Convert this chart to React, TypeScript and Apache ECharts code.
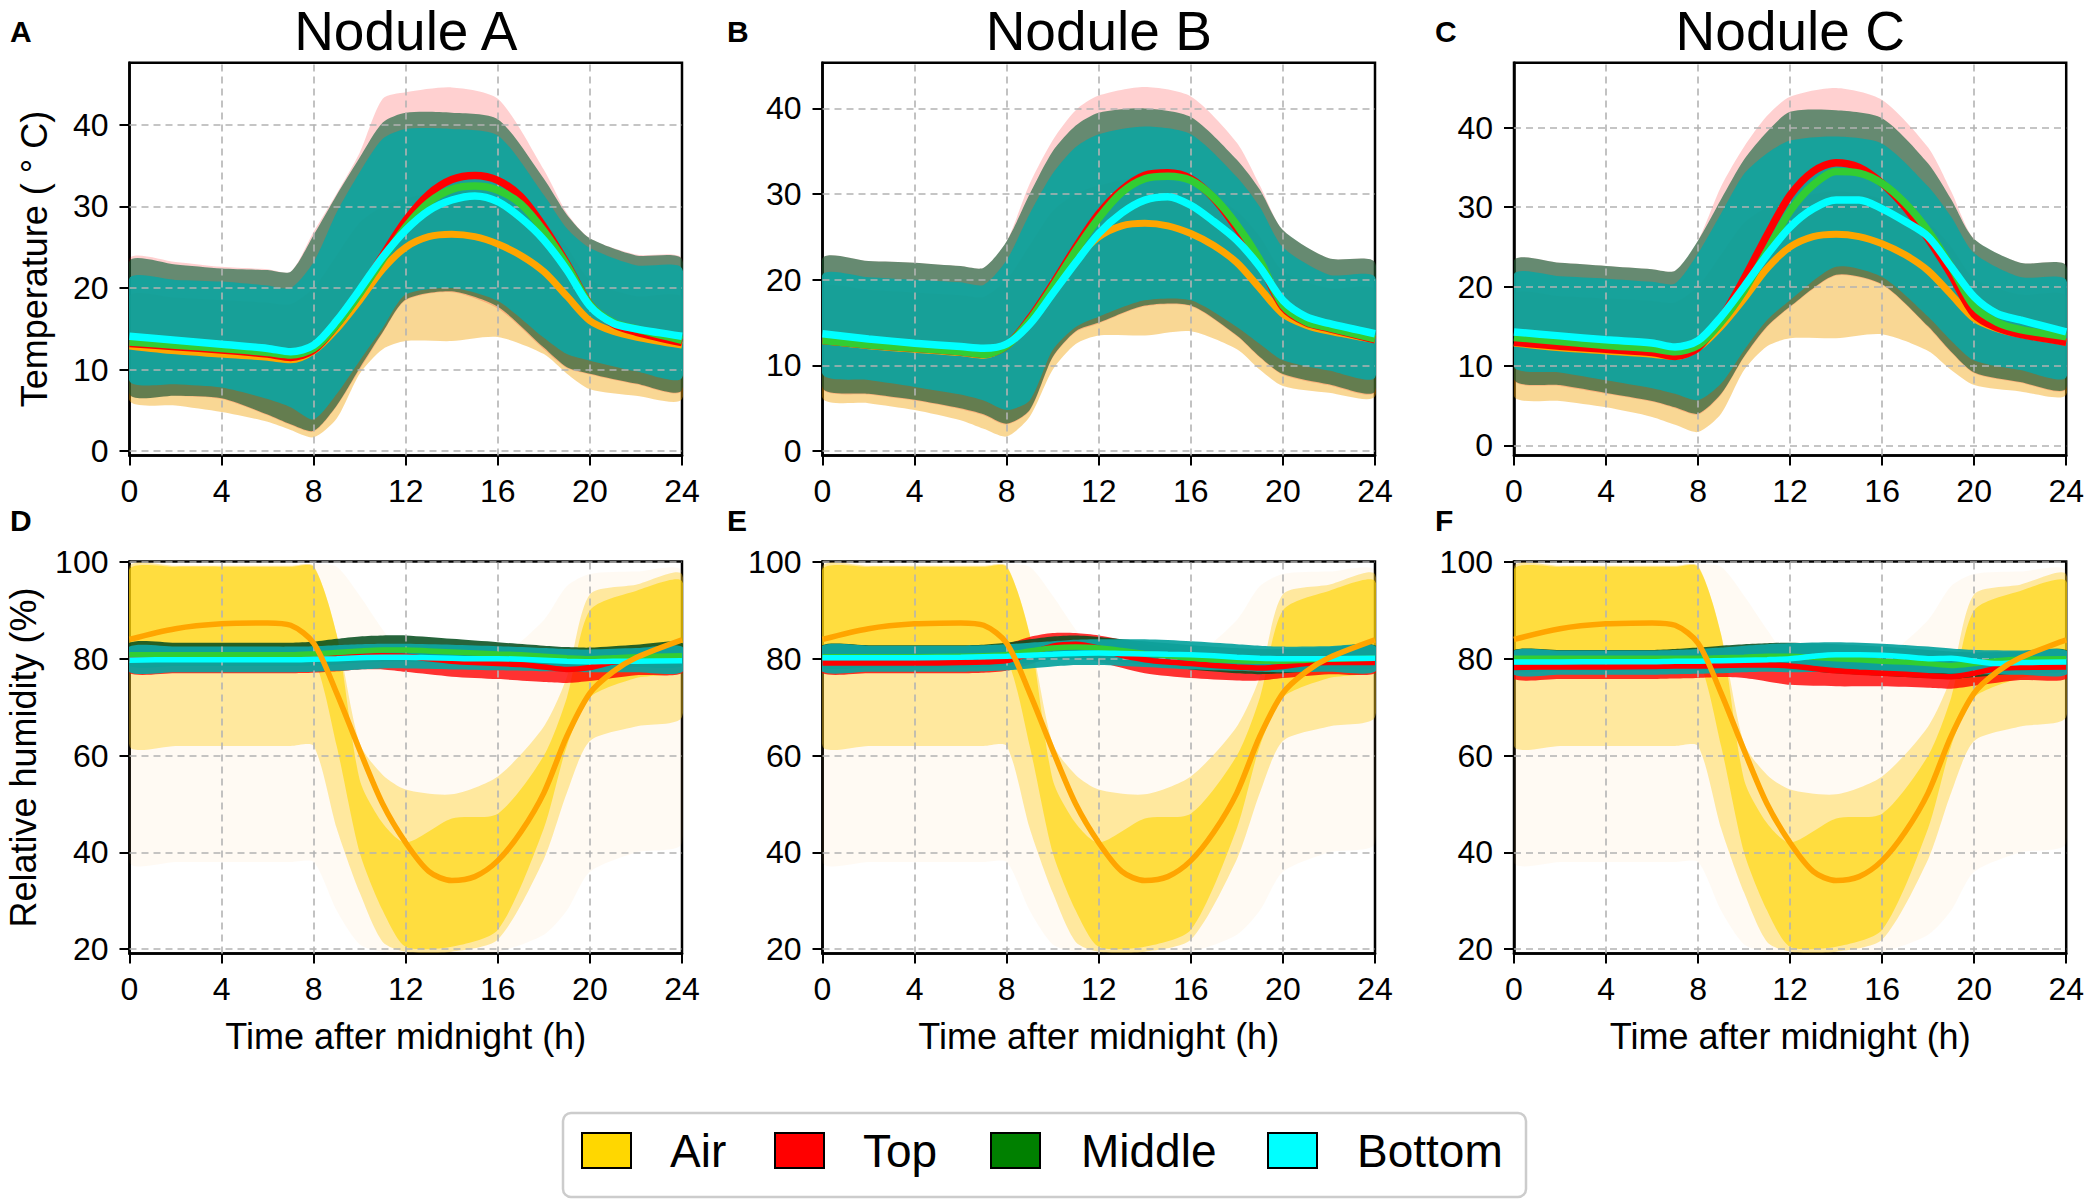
import React, { useEffect, useRef } from "react";
import * as echarts from "echarts";

// ---------------- DATA ----------------
const HOURS_MEAN = [0, 2, 4, 6, 7, 8, 9, 10, 11, 12, 13, 14, 15, 16, 17, 18, 19, 20, 21, 22, 24];
const HOURS_BAND = [0, 2, 4, 6, 7, 8, 9, 10, 11, 12, 14, 16, 18, 19, 20, 22, 24];
const X_TICKS = [0, 4, 8, 12, 16, 20, 24];
const TEMP_TICKS = [0, 10, 20, 30, 40];
const RH_TICKS = [20, 40, 60, 80, 100];
const NODULE_TITLES = ["Nodule A", "Nodule B", "Nodule C"];
const TOP_LETTERS = ["A", "B", "C"];
const BOTTOM_LETTERS = ["D", "E", "F"];
const SERIES_NAMES = ["Air", "Top", "Middle", "Bottom"];

// mean temperature (°C)
const AIR_TEMP_MEAN = [12.9, 12.3, 11.9, 11.5, 11.2, 12.3, 15.0, 18.5, 22.3, 25.0, 26.3, 26.6, 26.3, 25.4, 24.0, 22.0, 19.0, 16.0, 14.7, 14.0, 13.0];
const A_TOP_TEMP = [13.2, 12.8, 12.4, 11.9, 11.5, 12.4, 15.5, 19.5, 24.0, 28.3, 31.5, 33.3, 33.8, 33.2, 31.2, 27.5, 23.0, 18.0, 15.6, 14.6, 13.3];
const A_MID_TEMP = [13.4, 13.0, 12.6, 12.1, 11.8, 12.6, 15.5, 19.3, 23.5, 27.5, 30.5, 32.1, 32.5, 32.0, 30.3, 27.0, 22.8, 18.0, 15.8, 15.0, 13.6];
const A_BOT_TEMP = [14.1, 13.6, 13.1, 12.6, 12.2, 13.0, 16.0, 19.8, 23.8, 27.1, 29.5, 30.8, 31.3, 30.6, 28.6, 25.9, 22.2, 17.8, 15.7, 15.0, 14.1];
const B_TOP_TEMP = [12.9, 12.4, 12.0, 11.6, 11.3, 12.3, 15.5, 19.5, 23.8, 27.7, 30.5, 32.2, 32.5, 31.8, 29.5, 26.0, 22.0, 16.8, 15.0, 14.3, 13.0];
const B_MID_TEMP = [12.9, 12.4, 12.0, 11.6, 11.3, 12.3, 15.3, 19.2, 23.4, 27.2, 30.2, 31.8, 32.1, 31.6, 29.6, 26.4, 22.3, 17.0, 15.1, 14.4, 13.1];
const B_BOT_TEMP = [13.7, 13.1, 12.6, 12.2, 12.0, 12.5, 14.8, 18.4, 22.0, 25.4, 27.8, 29.3, 29.7, 28.7, 26.8, 24.6, 21.5, 17.6, 15.7, 14.9, 13.7];
const C_TOP_TEMP = [13.0, 12.5, 12.1, 11.7, 11.2, 12.3, 16.0, 21.0, 26.5, 31.5, 34.5, 35.6, 35.0, 33.0, 30.0, 26.0, 21.5, 16.5, 14.8, 14.0, 13.0];
const C_MID_TEMP = [13.6, 13.1, 12.6, 12.2, 11.8, 12.6, 15.5, 19.5, 24.5, 29.5, 32.8, 34.5, 34.3, 33.0, 30.5, 27.0, 22.5, 17.5, 15.5, 14.6, 13.7];
const C_BOT_TEMP = [14.3, 13.8, 13.3, 12.9, 12.4, 13.2, 16.2, 20.0, 24.0, 27.5, 29.8, 30.9, 30.9, 29.8, 28.2, 26.3, 22.5, 18.7, 16.6, 15.8, 14.3];

// mean relative humidity (%)
const AIR_RH_MEAN = [84.0, 86.2, 87.2, 87.4, 86.9, 83.2, 72.9, 61.1, 50.0, 42.0, 36.1, 34.2, 35.0, 38.3, 44.2, 52.3, 64.0, 72.9, 77.3, 80.2, 83.9];
const D_TOP_RH = [80.0, 80.0, 80.0, 80.0, 80.0, 80.1, 80.3, 80.5, 80.6, 80.5, 80.0, 79.5, 79.2, 79.0, 78.8, 78.3, 77.8, 78.2, 79.3, 79.8, 80.0];
const D_MID_RH = [80.8, 80.8, 80.8, 80.8, 80.8, 81.0, 81.3, 81.6, 81.8, 81.8, 81.6, 81.4, 81.2, 81.0, 80.8, 80.5, 80.2, 80.0, 80.2, 80.4, 80.6];
const D_BOT_RH = [79.7, 79.8, 79.8, 79.8, 79.8, 79.9, 80.0, 80.2, 80.3, 80.3, 80.2, 80.1, 80.0, 80.0, 79.9, 79.7, 79.5, 79.4, 79.5, 79.5, 79.6];
const E_TOP_RH = [79.1, 79.1, 79.1, 79.2, 79.3, 79.6, 81.0, 82.6, 83.0, 82.2, 80.7, 79.8, 79.3, 79.0, 78.6, 78.3, 78.1, 78.4, 79.0, 79.2, 79.2];
const E_MID_RH = [80.4, 80.4, 80.4, 80.5, 80.6, 80.9, 81.6, 82.2, 82.4, 82.2, 81.7, 81.1, 80.6, 80.1, 79.8, 79.6, 79.5, 79.5, 79.7, 79.9, 80.1];
const E_BOT_RH = [80.2, 80.2, 80.2, 80.3, 80.4, 80.5, 80.7, 80.9, 81.1, 81.2, 81.1, 81.0, 80.9, 80.8, 80.6, 80.3, 80.1, 80.0, 80.0, 80.0, 80.1];
const F_TOP_RH = [78.2, 78.3, 78.3, 78.4, 78.5, 78.5, 78.6, 78.7, 78.7, 78.5, 78.0, 77.5, 77.2, 77.0, 76.8, 76.5, 76.3, 77.0, 78.0, 78.2, 78.3];
const F_MID_RH = [80.1, 80.1, 80.1, 80.1, 80.1, 80.1, 80.2, 80.3, 80.5, 80.5, 80.3, 80.0, 79.8, 79.5, 79.3, 79.0, 78.6, 79.0, 79.6, 79.9, 80.0];
const F_BOT_RH = [79.3, 79.3, 79.4, 79.4, 79.5, 79.5, 79.6, 79.7, 79.8, 80.0, 80.5, 80.8, 80.8, 80.7, 80.4, 80.0, 80.1, 79.5, 79.0, 79.2, 79.3];

// spread of the individual readings (lower / upper envelopes), temperature
const AIR_TEMP_LO = [6.2, 5.6, 4.8, 3.6, 2.6, 1.7, 4.0, 9.5, 12.5, 13.5, 13.5, 14.0, 11.9, 9.5, 7.6, 6.8, 6.4];
const AIR_TEMP_HI = [19.0, 18.8, 18.5, 18.2, 18.0, 20.0, 24.0, 28.0, 30.0, 31.0, 32.0, 31.0, 28.0, 25.0, 21.0, 19.0, 18.8];
const A_TOP_TEMP_LO = [7.0, 6.8, 6.4, 4.4, 3.2, 2.4, 5.5, 10.0, 14.5, 18.5, 19.5, 17.5, 12.5, 10.2, 9.4, 8.2, 7.4];
const A_TOP_TEMP_HI = [23.6, 23.2, 22.6, 22.3, 22.0, 26.9, 31.6, 36.6, 43.2, 44.0, 44.6, 43.2, 34.5, 29.2, 26.1, 24.1, 23.6];
const A_MID_TEMP_LO = [7.0, 6.8, 6.5, 4.5, 3.3, 2.5, 5.6, 10.2, 14.6, 18.6, 19.6, 17.7, 12.7, 10.3, 9.5, 8.3, 7.5];
const A_MID_TEMP_HI = [23.3, 22.9, 22.4, 22.2, 22.0, 26.5, 31.4, 36.0, 40.3, 41.5, 41.5, 40.7, 33.4, 29.0, 26.1, 24.0, 23.5];
const A_BOT_TEMP_LO = [8.6, 8.2, 7.8, 6.4, 5.4, 3.9, 7.0, 11.1, 15.1, 19.2, 20.0, 18.4, 13.9, 11.9, 11.1, 9.8, 9.0];
const A_BOT_TEMP_HI = [21.2, 21.0, 20.8, 20.3, 20.0, 23.2, 29.3, 34.2, 38.3, 39.5, 39.5, 38.7, 31.4, 27.3, 24.9, 22.8, 22.4];
const B_TOP_TEMP_LO = [7.3, 6.6, 5.9, 4.9, 4.2, 3.1, 4.7, 10.9, 13.9, 14.9, 16.9, 16.9, 13.4, 10.9, 8.9, 7.7, 6.9];
const B_TOP_TEMP_HI = [22.5, 22.2, 22.0, 21.6, 21.4, 24.5, 31.2, 36.3, 39.8, 41.5, 42.5, 41.4, 36.0, 31.0, 25.8, 22.5, 22.0];
const B_MID_TEMP_LO = [7.4, 6.7, 6.0, 5.0, 4.3, 3.2, 4.8, 11.0, 14.0, 15.0, 17.0, 17.0, 13.5, 11.0, 9.0, 7.8, 7.0];
const B_MID_TEMP_HI = [22.5, 22.2, 22.0, 21.6, 21.4, 24.5, 30.0, 35.0, 38.0, 39.5, 40.0, 39.0, 34.0, 30.5, 25.8, 22.5, 22.0];
const B_BOT_TEMP_LO = [9.0, 8.3, 7.5, 6.6, 5.9, 4.8, 5.9, 11.8, 14.5, 15.7, 17.6, 17.6, 14.5, 12.5, 10.6, 9.4, 8.6];
const B_BOT_TEMP_HI = [20.6, 20.3, 20.0, 19.7, 19.4, 22.3, 27.7, 32.4, 35.5, 37.0, 37.9, 37.0, 32.0, 28.5, 23.8, 20.6, 20.3];
const C_TOP_TEMP_LO = [8.2, 7.5, 6.5, 5.5, 4.7, 3.9, 6.4, 11.1, 14.9, 17.4, 21.4, 20.2, 14.9, 11.7, 9.1, 7.9, 7.1];
const C_TOP_TEMP_HI = [23.3, 23.0, 22.6, 22.2, 22.0, 25.8, 32.6, 37.6, 41.5, 43.9, 45.0, 43.5, 37.5, 32.0, 26.0, 23.0, 22.6];
const C_MID_TEMP_LO = [8.3, 7.6, 6.6, 5.6, 4.8, 4.0, 6.5, 11.2, 15.0, 17.5, 21.5, 20.3, 15.0, 11.8, 9.2, 8.0, 7.2];
const C_MID_TEMP_HI = [23.3, 23.0, 22.6, 22.2, 22.0, 25.8, 31.0, 36.0, 39.5, 42.0, 42.2, 41.2, 35.5, 31.0, 26.0, 23.0, 22.6];
const C_BOT_TEMP_LO = [9.9, 9.2, 8.2, 7.2, 6.5, 5.7, 7.8, 12.0, 15.8, 18.3, 22.5, 21.2, 16.2, 13.2, 10.7, 9.5, 8.6];
const C_BOT_TEMP_HI = [21.6, 21.3, 21.0, 20.6, 20.4, 24.2, 29.2, 34.2, 36.8, 38.4, 38.9, 38.0, 32.6, 28.8, 24.2, 21.2, 20.8];

// spread of the individual readings, relative humidity
const AIR_RH_FAINT_LO = [38.0, 38.0, 38.0, 38.0, 38.0, 38.0, 28.0, 21.0, 19.5, 19.2, 19.2, 19.5, 23.0, 28.0, 36.0, 40.0, 42.0];
const AIR_RH_FAINT_HI = [99.5, 99.5, 99.5, 99.5, 99.5, 99.5, 99.0, 93.0, 86.0, 80.0, 78.0, 80.0, 88.0, 95.0, 97.5, 98.0, 98.0];
const AIR_RH_MID_LO = [62.0, 62.0, 62.0, 62.0, 62.0, 62.0, 45.0, 31.7, 21.5, 19.5, 19.5, 22.0, 38.6, 52.3, 63.0, 66.0, 68.0];
const AIR_RH_MID_HI = [99.0, 99.2, 99.2, 99.2, 99.2, 99.2, 85.0, 62.5, 56.0, 53.0, 52.0, 55.7, 66.0, 76.2, 93.3, 95.3, 97.4];
const AIR_RH_LO = [80.0, 80.0, 80.0, 80.0, 80.0, 80.0, 62.0, 40.0, 28.0, 20.5, 20.5, 24.0, 45.0, 62.0, 72.0, 76.0, 78.0];
const AIR_RH_HI = [98.5, 99.0, 99.0, 99.0, 99.0, 99.0, 85.0, 55.0, 46.0, 42.0, 47.0, 48.0, 60.0, 72.0, 90.0, 94.0, 96.0];
const D_TOP_RH_LO = [77.0, 77.0, 77.0, 77.0, 77.0, 77.1, 77.4, 77.8, 77.8, 77.3, 76.3, 75.8, 75.2, 75.0, 75.4, 76.6, 77.0];
const D_TOP_RH_HI = [81.5, 81.5, 81.5, 81.5, 81.5, 81.6, 81.8, 82.0, 82.2, 82.2, 81.6, 81.0, 80.5, 80.3, 80.5, 81.0, 81.5];
const D_MID_RH_LO = [78.5, 78.5, 78.5, 78.5, 78.5, 78.6, 78.8, 79.2, 79.4, 79.4, 79.0, 78.6, 78.3, 78.0, 78.0, 78.3, 78.5];
const D_MID_RH_HI = [83.3, 83.3, 83.3, 83.3, 83.3, 83.5, 84.1, 84.6, 84.8, 84.8, 84.1, 83.4, 82.7, 82.4, 82.3, 82.9, 83.3];
const D_BOT_RH_LO = [77.2, 77.2, 77.2, 77.2, 77.2, 77.3, 77.5, 77.8, 78.0, 78.0, 77.8, 77.6, 77.4, 77.3, 77.2, 77.2, 77.2];
const D_BOT_RH_HI = [82.5, 82.5, 82.5, 82.5, 82.5, 82.6, 82.8, 83.0, 83.1, 83.1, 82.9, 82.6, 82.2, 82.0, 81.9, 82.2, 82.5];
const E_TOP_RH_LO = [77.0, 77.0, 77.0, 77.0, 77.1, 77.5, 78.8, 80.3, 80.3, 79.3, 77.0, 76.0, 75.5, 75.5, 76.0, 76.8, 77.0];
const E_TOP_RH_HI = [81.5, 81.5, 81.5, 81.5, 81.7, 83.0, 84.5, 85.3, 85.3, 84.8, 83.0, 81.5, 80.5, 80.3, 80.3, 81.0, 81.5];
const E_MID_RH_LO = [78.2, 78.2, 78.2, 78.2, 78.3, 78.6, 79.2, 79.8, 80.0, 79.8, 78.8, 77.8, 77.0, 76.8, 77.0, 77.8, 78.2];
const E_MID_RH_HI = [82.8, 82.8, 82.8, 82.8, 82.9, 83.3, 84.0, 84.6, 84.8, 84.5, 83.6, 82.8, 82.2, 82.0, 82.0, 82.4, 82.8];
const E_BOT_RH_LO = [77.3, 77.3, 77.3, 77.3, 77.4, 77.6, 78.0, 78.4, 78.7, 78.7, 78.3, 77.8, 77.5, 77.3, 77.2, 77.3, 77.3];
const E_BOT_RH_HI = [82.7, 82.7, 82.7, 82.7, 82.8, 83.0, 83.3, 83.6, 83.9, 84.0, 84.0, 83.6, 83.0, 82.7, 82.5, 82.6, 82.7];
const F_TOP_RH_LO = [75.8, 75.8, 75.8, 75.8, 75.9, 76.0, 76.2, 76.0, 75.3, 74.6, 74.3, 74.3, 74.0, 73.8, 74.4, 75.6, 75.8];
const F_TOP_RH_HI = [80.3, 80.3, 80.3, 80.3, 80.3, 80.4, 80.5, 80.6, 80.5, 80.2, 79.6, 79.0, 78.5, 78.3, 78.8, 80.0, 80.3];
const F_MID_RH_LO = [77.5, 77.5, 77.5, 77.5, 77.5, 77.6, 77.7, 77.8, 77.8, 77.6, 77.0, 76.5, 76.0, 75.8, 76.2, 77.0, 77.5];
const F_MID_RH_HI = [81.8, 81.8, 81.8, 81.8, 82.0, 82.3, 82.7, 83.0, 83.2, 83.3, 83.0, 82.5, 81.8, 81.5, 81.3, 81.5, 81.8];
const F_BOT_RH_LO = [76.7, 76.7, 76.7, 76.7, 76.8, 76.9, 77.0, 77.2, 77.3, 77.2, 77.3, 77.2, 77.0, 76.9, 76.8, 76.7, 76.7];
const F_BOT_RH_HI = [81.7, 81.7, 81.7, 81.7, 81.8, 82.0, 82.3, 82.7, 83.0, 83.2, 83.4, 83.1, 82.5, 82.1, 81.8, 81.7, 81.7];

// axis ranges
const TEMP_Y_MIN = [-0.53, -0.51, -1.26];
const TEMP_Y_MAX = [47.63, 45.34, 48.19];
const RH_Y_MIN = 19.1;
const RH_Y_MAX = 100.1;

// ---------------- LAYOUT / STYLE ----------------
const FONT = '"Liberation Sans", Arial, Helvetica, sans-serif';
const GRID_LEFTS = [129.5, 822.5, 1514];
const GRID_W = 552.5;
const ROW_TOPS = [62.7, 561.4];
const ROW_H = [392.8, 392.2];

const LINE_COLORS = ["#FFA500", "#FF0000", "#32CD32", "#00FFFF"];
const LEGEND_COLORS = ["#FFD700", "#FF0000", "#008000", "#00FFFF"];

function bandSeries(g: number, lo: number[], hi: number[], fill: string, z: number) {
  return {
    type: "custom",
    xAxisIndex: g,
    yAxisIndex: g,
    clip: true,
    silent: true,
    z,
    data: HOURS_BAND.map((h, k) => [h, lo[k], hi[k]]),
    encode: { x: 0, y: [1, 2] },
    renderItem: (params: any, api: any) => {
      if (params.dataIndex !== 0) return null;
      const up = HOURS_BAND.map((h, k) => api.coord([h, hi[k]]));
      const dn = HOURS_BAND.map((h, k) => api.coord([h, lo[k]])).reverse();
      return {
        type: "polygon",
        shape: { points: up.concat(dn), smooth: 0.25 },
        style: { fill },
      };
    },
  };
}

function meanSeries(g: number, name: string, vals: number[], color: string, width: number, z: number) {
  return {
    type: "line",
    name,
    xAxisIndex: g,
    yAxisIndex: g,
    data: HOURS_MEAN.map((h, k) => [h, vals[k]]),
    smooth: 0.3,
    symbol: "none",
    showSymbol: false,
    silent: true,
    z,
    lineStyle: { color, width },
    clip: true,
  };
}

function gridLineSeries(g: number, yTicks: number[], yMin: number) {
  return {
    type: "line",
    xAxisIndex: g,
    yAxisIndex: g,
    data: [[0, yMin]],
    symbol: "none",
    silent: true,
    z: 3,
    lineStyle: { opacity: 0 },
    markLine: {
      silent: true,
      symbol: ["none", "none"],
      label: { show: false },
      lineStyle: { type: [7, 5], color: "#b3b3b3", width: 1.6 },
      data: [
        ...X_TICKS.slice(1, -1).map((v) => ({ xAxis: v })),
        ...yTicks.map((v) => ({ yAxis: v })),
      ],
    },
  };
}

function buildOption() {
  const grids: any[] = [];
  const xAxes: any[] = [];
  const yAxes: any[] = [];
  const series: any[] = [];

  const tempMeans = [
    [A_TOP_TEMP, A_MID_TEMP, A_BOT_TEMP],
    [B_TOP_TEMP, B_MID_TEMP, B_BOT_TEMP],
    [C_TOP_TEMP, C_MID_TEMP, C_BOT_TEMP],
  ];
  const tempBands = [
    [[A_TOP_TEMP_LO, A_TOP_TEMP_HI], [A_MID_TEMP_LO, A_MID_TEMP_HI], [A_BOT_TEMP_LO, A_BOT_TEMP_HI]],
    [[B_TOP_TEMP_LO, B_TOP_TEMP_HI], [B_MID_TEMP_LO, B_MID_TEMP_HI], [B_BOT_TEMP_LO, B_BOT_TEMP_HI]],
    [[C_TOP_TEMP_LO, C_TOP_TEMP_HI], [C_MID_TEMP_LO, C_MID_TEMP_HI], [C_BOT_TEMP_LO, C_BOT_TEMP_HI]],
  ];
  const rhMeans = [
    [D_TOP_RH, D_MID_RH, D_BOT_RH],
    [E_TOP_RH, E_MID_RH, E_BOT_RH],
    [F_TOP_RH, F_MID_RH, F_BOT_RH],
  ];
  const rhBands = [
    [[D_TOP_RH_LO, D_TOP_RH_HI], [D_MID_RH_LO, D_MID_RH_HI], [D_BOT_RH_LO, D_BOT_RH_HI]],
    [[E_TOP_RH_LO, E_TOP_RH_HI], [E_MID_RH_LO, E_MID_RH_HI], [E_BOT_RH_LO, E_BOT_RH_HI]],
    [[F_TOP_RH_LO, F_TOP_RH_HI], [F_MID_RH_LO, F_MID_RH_HI], [F_BOT_RH_LO, F_BOT_RH_HI]],
  ];

  const tempFills = ["rgba(255,20,20,0.2)", "rgba(0,92,50,0.6)", "rgba(14,164,160,0.9)"];
  const rhFills = ["rgba(255,0,0,0.8)", "rgba(8,78,32,0.88)", "rgba(14,164,160,0.95)"];

  for (let row = 0; row < 2; row++) {
    for (let col = 0; col < 3; col++) {
      const g = row * 3 + col;
      const isTemp = row === 0;
      const yMin = isTemp ? TEMP_Y_MIN[col] : RH_Y_MIN;
      const yMax = isTemp ? TEMP_Y_MAX[col] : RH_Y_MAX;
      const yTicks = isTemp ? TEMP_TICKS : RH_TICKS;
      grids.push({
        left: GRID_LEFTS[col],
        top: ROW_TOPS[row],
        width: GRID_W,
        height: ROW_H[row],
        show: true,
        backgroundColor: "#ffffff",
        borderColor: "#000000",
        borderWidth: 2.5,
        containLabel: false,
      });
      xAxes.push({
        type: "value",
        gridIndex: g,
        min: 0,
        max: 24,
        interval: 4,
        axisLine: { show: true, onZero: false, lineStyle: { color: "#000", width: 2.5 } },
        axisTick: { show: true, inside: false, length: 10, lineStyle: { color: "#000", width: 2 } },
        axisLabel: { show: true, color: "#000", fontSize: 32, fontFamily: FONT, margin: 19 },
        splitLine: { show: false },
      });
      yAxes.push({
        type: "value",
        gridIndex: g,
        min: yMin,
        max: yMax,
        axisLine: { show: true, onZero: false, lineStyle: { color: "#000", width: 2.5 } },
        axisTick: { show: true, inside: false, length: 10, customValues: yTicks, lineStyle: { color: "#000", width: 2 } },
        axisLabel: { show: true, color: "#000", fontSize: 32, fontFamily: FONT, margin: 21, customValues: yTicks },
        splitLine: { show: false },
      });

      if (isTemp) {
        series.push(bandSeries(g, AIR_TEMP_LO, AIR_TEMP_HI, "rgba(240,160,0,0.42)", 1));
        const bands = tempBands[col];
        bands.forEach((b, i) => series.push(bandSeries(g, b[0], b[1], tempFills[i], 1)));
        series.push(gridLineSeries(g, yTicks, yMin));
        series.push(meanSeries(g, SERIES_NAMES[0], AIR_TEMP_MEAN, LINE_COLORS[0], 7, 5));
        tempMeans[col].forEach((m, i) => series.push(meanSeries(g, SERIES_NAMES[i + 1], m, LINE_COLORS[i + 1], 7.5, 5)));
      } else {
        series.push(bandSeries(g, AIR_RH_FAINT_LO, AIR_RH_FAINT_HI, "rgba(255,190,80,0.07)", 1));
        series.push(bandSeries(g, AIR_RH_MID_LO, AIR_RH_MID_HI, "rgba(255,205,30,0.4)", 1));
        series.push(bandSeries(g, AIR_RH_LO, AIR_RH_HI, "rgba(255,214,0,0.6)", 1));
        const bands = rhBands[col];
        bands.forEach((b, i) => series.push(bandSeries(g, b[0], b[1], rhFills[i], 1)));
        series.push(gridLineSeries(g, yTicks, yMin));
        rhMeans[col].forEach((m, i) => series.push(meanSeries(g, SERIES_NAMES[i + 1], m, LINE_COLORS[i + 1], 5.5, 5)));
        series.push(meanSeries(g, SERIES_NAMES[0], AIR_RH_MEAN, LINE_COLORS[0], 5.5, 5));
      }
    }
  }

  const graphics: any[] = [];
  NODULE_TITLES.forEach((t, col) => {
    graphics.push({
      type: "text",
      x: GRID_LEFTS[col] + GRID_W / 2,
      y: 31,
      style: { text: t, font: `55px ${FONT}`, fill: "#000", align: "center", verticalAlign: "middle", textAlign: "center", textVerticalAlign: "middle" },
    });
  });
  const letterX = [10, 727, 1435];
  TOP_LETTERS.forEach((t, col) => {
    graphics.push({
      type: "text", x: letterX[col], y: 31,
      style: { text: t, font: `bold 30px ${FONT}`, fill: "#000", align: "left", verticalAlign: "middle", textAlign: "left", textVerticalAlign: "middle" },
    });
  });
  BOTTOM_LETTERS.forEach((t, col) => {
    graphics.push({
      type: "text", x: letterX[col], y: 520,
      style: { text: t, font: `bold 30px ${FONT}`, fill: "#000", align: "left", verticalAlign: "middle", textAlign: "left", textVerticalAlign: "middle" },
    });
  });
  graphics.push({
    type: "text", x: 34, y: ROW_TOPS[0] + ROW_H[0] / 2, rotation: Math.PI / 2,
    style: { text: "Temperature ( \u00b0 C)", font: `36px ${FONT}`, fill: "#000", align: "center", verticalAlign: "middle", textAlign: "center", textVerticalAlign: "middle" },
  });
  graphics.push({
    type: "text", x: 23, y: ROW_TOPS[1] + ROW_H[1] / 2, rotation: Math.PI / 2,
    style: { text: "Relative humidity (%)", font: `36px ${FONT}`, fill: "#000", align: "center", verticalAlign: "middle", textAlign: "center", textVerticalAlign: "middle" },
  });
  GRID_LEFTS.forEach((l) => {
    graphics.push({
      type: "text", x: l + GRID_W / 2, y: 1036,
      style: { text: "Time after midnight (h)", font: `36px ${FONT}`, fill: "#000", align: "center", verticalAlign: "middle", textAlign: "center", textVerticalAlign: "middle" },
    });
  });
  graphics.push({
    type: "rect",
    shape: { x: 563, y: 1113, width: 963, height: 84, r: 8 },
    style: { fill: "#ffffff", stroke: "#cccccc", lineWidth: 2.5 },
  });
  const swatchX = [582, 775, 991, 1268];
  const textX = [670, 863, 1081, 1357];
  SERIES_NAMES.forEach((n, i) => {
    graphics.push({
      type: "rect",
      shape: { x: swatchX[i], y: 1133, width: 49, height: 35 },
      style: { fill: LEGEND_COLORS[i], stroke: "#000", lineWidth: 2 },
    });
    graphics.push({
      type: "text", x: textX[i], y: 1151,
      style: { text: n, font: `46px ${FONT}`, fill: "#000", align: "left", verticalAlign: "middle", textAlign: "left", textVerticalAlign: "middle" },
    });
  });

  return {
    animation: false,
    backgroundColor: "#ffffff",
    grid: grids,
    xAxis: xAxes,
    yAxis: yAxes,
    series,
    graphic: graphics,
  };
}

export default function App() {
  const ref = useRef<HTMLDivElement>(null);
  useEffect(() => {
    if (!ref.current) return;
    const chart = echarts.init(ref.current, undefined, { renderer: "svg" });
    chart.setOption(buildOption() as any);
    return () => chart.dispose();
  }, []);
  return (
    <div
      ref={ref}
      style={{ position: "fixed", left: 0, top: 0, width: 2087, height: 1201, background: "#fff" }}
    />
  );
}
